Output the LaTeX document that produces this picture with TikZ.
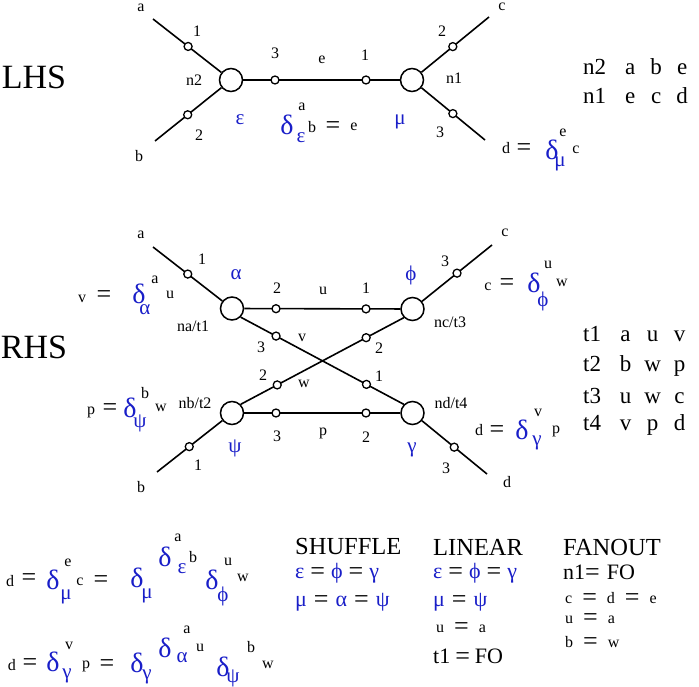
\documentclass[tikz,border=0pt]{standalone}
\usepackage{fontspec}
\setmainfont{Liberation Serif}
\usetikzlibrary{calc}
\definecolor{gblue}{RGB}{25,30,200}
\newcommand{\tcol}[1]{\makebox[27pt]{#1}}
\newcommand{\tcolb}[1]{\makebox[26pt]{#1}}
\newcommand{\eqs}{{\fontsize{26}{26}\selectfont =}}
\newcommand{\eqsl}{\raisebox{-2.8pt}{\eqs}}
\newcommand{\eqm}{\raisebox{-1.2pt}{\eqs}}
\newcommand{\gb}[1]{\textcolor{gblue}{#1}}
\begin{document}
\begin{tikzpicture}[x=1pt,y=-1pt,
  edge/.style={line width=1.6pt},
  bigc/.style={circle,draw,line width=1.5pt,minimum size=23pt,inner sep=0pt,fill=white},
  port/.style={circle,draw,line width=1.3pt,minimum size=8pt,inner sep=0pt,fill=white},
  lbl/.style={inner sep=0pt,font=\fontsize{16}{18}\selectfont},
  eqn/.style={inner sep=0pt,font=\fontsize{26}{26}\selectfont},
  side/.style={inner sep=0pt,font=\fontsize{34}{38}\selectfont},
  tabrow/.style={inner sep=0pt,anchor=west,font=\fontsize{23}{25}\selectfont},
  head/.style={inner sep=0pt,anchor=west,font=\fontsize{24.5}{27}\selectfont},
  rulel/.style={inner sep=0pt,anchor=west,font=\fontsize{22}{24}\selectfont},
  dl/.style={inner sep=0pt,text=gblue,font=\fontsize{28}{30}\selectfont},
  gk/.style={inner sep=0pt,text=gblue,font=\fontsize{21}{24}\selectfont}]
\useasboundingbox (0,0) rectangle (699,687);

% ================= LHS =================
\node[side] (lhs) at (34,77) {LHS};
\coordinate (aE) at (153,19);
\coordinate (bE) at (155,141);
\coordinate (cE) at (489,17);
\coordinate (dE) at (485,140);
\node[bigc] (n2) at (231,80) {};
\node[bigc] (n1) at (412,80) {};
\draw[edge] (aE) -- (n2);
\draw[edge] (bE) -- (n2);
\draw[edge] (n1) -- (cE);
\draw[edge] (n1) -- (dE);
\draw[edge] (n2) -- (n1);
\node[port] (la1) at ($(aE)!0.45!(n2)$) {};
\node[port] (lb2) at ($(bE)!0.43!(n2)$) {};
\node[port] (le3) at (275,80) {};
\node[port] (le1) at (366,80) {};
\node[port] (lc2) at ($(n1)!0.53!(cE)$) {};
\node[port] (ld3) at ($(n1)!0.56!(dE)$) {};

\node[lbl] (tA) at (141,8) {a};
\node[lbl] (tB) at (139,156) {b};
\node[lbl] (t1a) at (197,31) {1};
\node[lbl] (t2b) at (199,135) {2};
\node[lbl] (tn2) at (194,80) {n2};
\node[lbl] (t3e) at (275,53) {3};
\node[lbl] (tE) at (322,60) {e};
\node[lbl] (t1e) at (365,55) {1};
\node[lbl] (t2c) at (442,31) {2};
\node[lbl] (tC) at (502,7) {c};
\node[lbl] (tn1) at (454,78) {n1};
\node[lbl] (t3d) at (440,132) {3};
\node[gk] (geps) at (240,120) {ε};
\node[gk] (gmu) at (400,122) {μ};
% delta_eps^a b = e
\node[dl] (d1) at (287,125) {δ};
\node[lbl] (d1a) at (302,107) {a};
\node[gk] (d1s) at (301,138) {ε};
\node[lbl] (d1b) at (312,127) {b};
\node[eqn] (d1q) at (333,128) {=};
\node[lbl] (d1e) at (354,127) {e};
% d = delta_mu^e c
\node[lbl] (d2d) at (506,148) {d};
\node[eqn] (d2q) at (524,150) {=};
\node[dl] (d2) at (552,150) {δ};
\node[lbl] (d2e) at (563,133) {e};
\node[gk] (d2s) at (560,164) {μ};
\node[lbl] (d2c) at (576,150) {c};
% table
\node[tabrow] (r1) at (583,67) {n2\hspace{11pt}\tcolb{a}\tcolb{b}\tcolb{e}};
\node[tabrow] (r2) at (583,96) {n1\hspace{11pt}\tcolb{e}\tcolb{c}\tcolb{d}};

% ================= RHS =================
\node[side] (rhs) at (34,347) {RHS};
\coordinate (aF) at (153,247);
\coordinate (bF) at (157,472);
\coordinate (cF) at (492,245);
\coordinate (dF) at (487,474);
\node[bigc] (al) at (232,308.5) {};
\node[bigc] (ph) at (412.5,309) {};
\node[bigc] (ps) at (232,413) {};
\node[bigc] (ga) at (412.5,413) {};
\draw[edge] (aF) -- (al);
\draw[edge] (bF) -- (ps);
\draw[edge] (ph) -- (cF);
\draw[edge] (ga) -- (dF);
\draw[edge] (al) -- (ph);
\draw[edge] (ps) -- (ga);
\draw[edge] (al.-45) -- (ga.135);
\draw[edge] (ps.45) -- (ph.-135);
\node[port] (ra1) at ($(aF)!0.44!(al)$) {};
\node[port] (rb1) at ($(bF)!0.43!(ps)$) {};
\node[port] (rc3) at ($(ph)!0.56!(cF)$) {};
\node[port] (rd3) at ($(ga)!0.56!(dF)$) {};
\node[port] (ru2) at (276,308.7) {};
\node[port] (ru1) at (366,308.9) {};
\node[port] (rp3) at (276,413) {};
\node[port] (rp2) at (366,413) {};
\node[port] (rv3) at ($(al.-45)!0.217!(ga.135)$) {};
\node[port] (rv1) at ($(al.-45)!0.771!(ga.135)$) {};
\node[port] (rw2) at ($(ps.45)!0.224!(ph.-135)$) {};
\node[port] (rw1) at ($(ps.45)!0.769!(ph.-135)$) {};

\node[lbl] (sA) at (141,235) {a};
\node[lbl] (s1a) at (202,259) {1};
\node[gk] (galpha) at (236,275) {α};
\node[lbl] (s2u) at (277,288) {2};
\node[lbl] (sU) at (323,291) {u};
\node[lbl] (s1u) at (366,288) {1};
\node[lbl] (sna) at (193,326) {na/t1};
\node[lbl] (s3v) at (261,347) {3};
\node[lbl] (sV) at (302,338) {v};
\node[lbl] (s2w) at (263,375) {2};
\node[lbl] (sW) at (304,384) {w};
\node[lbl] (snb) at (195,403) {nb/t2};
\node[lbl] (s3p) at (277,436) {3};
\node[lbl] (sP) at (323,433) {p};
\node[lbl] (s2p) at (366,437) {2};
\node[gk] (gpsi) at (235,448) {ψ};
\node[lbl] (s1b) at (198,465) {1};
\node[lbl] (sB) at (141,487) {b};
\node[lbl] (sC) at (505,233) {c};
\node[lbl] (s3c) at (445,261) {3};
\node[gk] (gphi) at (411,275) {ϕ};
\node[lbl] (snc) at (450,322) {nc/t3};
\node[lbl] (s2x) at (379,348) {2};
\node[lbl] (s1x) at (379,376) {1};
\node[lbl] (snd) at (451,403) {nd/t4};
\node[gk] (ggam) at (412,450) {γ};
\node[lbl] (s3d) at (446,468) {3};
\node[lbl] (sD) at (507,482) {d};
% v = delta_alpha^a u
\node[lbl] (e1v) at (82,299) {v};
\node[eqn] (e1q) at (104,297) {=};
\node[dl] (e1) at (139,294) {δ};
\node[lbl] (e1a) at (155,280) {a};
\node[gk] (e1s) at (145,310) {α};
\node[lbl] (e1u) at (170,295) {u};
% p = delta_psi^b w
\node[lbl] (e2p) at (91,412) {p};
\node[eqn] (e2q) at (110,410) {=};
\node[dl] (e2) at (130,408) {δ};
\node[lbl] (e2b) at (145,393) {b};
\node[gk] (e2s) at (140,423) {ψ};
\node[lbl] (e2w) at (161,408) {w};
% c = delta_phi^u w
\node[lbl] (e3c) at (488,287) {c};
\node[eqn] (e3q) at (507,285) {=};
\node[dl] (e3) at (534,283) {δ};
\node[lbl] (e3u) at (548,265) {u};
\node[gk] (e3s) at (543,301) {ϕ};
\node[lbl] (e3w) at (562,283) {w};
% d = delta_gamma^v p
\node[lbl] (e4d) at (479,430) {d};
\node[eqn] (e4q) at (497,432) {=};
\node[dl] (e4) at (522,430) {δ};
\node[lbl] (e4v) at (538,413) {v};
\node[gk] (e4s) at (537,443) {γ};
\node[lbl] (e4p) at (556,431) {p};
% table
\node[tabrow] (q1) at (583,334) {t1\hspace{11pt}\tcol{a}\tcol{u}\tcol{v}};
\node[tabrow] (q2) at (583,366) {t2\hspace{11pt}\tcol{b}\tcol{w}\tcol{p}};
\node[tabrow] (q3) at (583,396) {t3\hspace{11pt}\tcol{u}\tcol{w}\tcol{c}};
\node[tabrow] (q4) at (583,425) {t4\hspace{11pt}\tcol{v}\tcol{p}\tcol{d}};

% ================= bottom equations =================
\node[lbl] (b1d) at (10,581) {d};
\node[eqn] (b1q) at (29,580) {=};
\node[dl] (b1x) at (53,580) {δ};
\node[lbl] (b1e) at (68,563) {e};
\node[gk] (b1m) at (66,597) {μ};
\node[lbl] (b1c) at (80,582) {c};
\node[eqn] (b1r) at (101,582) {=};
\node[dl] (b1y) at (137,578) {δ};
\node[gk] (b1n) at (147,596) {μ};
\node[dl] (b1z) at (165,557) {δ};
\node[gk] (b1s) at (182,569) {ε};
\node[lbl] (b1a) at (178,538) {a};
\node[lbl] (b1b) at (193,557) {b};
\node[dl] (b1w) at (212,580) {δ};
\node[gk] (b1f) at (223,596) {ϕ};
\node[lbl] (b1u) at (228,562) {u};
\node[lbl] (b1v) at (243,578) {w};

\node[lbl] (b2d) at (12,665) {d};
\node[eqn] (b2q) at (30,665) {=};
\node[dl] (b2x) at (53,662) {δ};
\node[lbl] (b2v) at (69,646) {v};
\node[gk] (b2g) at (67,676) {γ};
\node[lbl] (b2p) at (86,666) {p};
\node[eqn] (b2r) at (107,666) {=};
\node[dl] (b2y) at (137,663) {δ};
\node[gk] (b2h) at (147,677) {γ};
\node[dl] (b2z) at (165,648) {δ};
\node[gk] (b2s) at (182,658) {α};
\node[lbl] (b2a) at (187,630) {a};
\node[lbl] (b2u) at (200,648) {u};
\node[dl] (b2w) at (223,667) {δ};
\node[gk] (b2f) at (233,678) {ψ};
\node[lbl] (b2b) at (251,647) {b};
\node[lbl] (b2x2) at (268,665) {w};

% ================= rule columns =================
\node[head] (shuf) at (295,547) {SHUFFLE};
\node[rulel] (sh1) at (295,573) {\gb{ε}\hspace{6pt}\eqm\hspace{6pt}\gb{ϕ}\hspace{6pt}\eqm\hspace{6pt}\gb{γ}};
\node[rulel] (sh2) at (295,602) {\gb{μ}\hspace{7pt}\eqm\hspace{7pt}\gb{α}\hspace{7pt}\eqm\hspace{7pt}\gb{ψ}};

\node[head] (lin) at (433,547) {LINEAR};
\node[rulel] (li1) at (433,573) {\gb{ε}\hspace{6pt}\eqm\hspace{6pt}\gb{ϕ}\hspace{6pt}\eqm\hspace{6pt}\gb{γ}};
\node[rulel] (li2) at (433,602) {\gb{μ}\hspace{7pt}\eqm\hspace{7pt}\gb{ψ}};
\node[lbl,anchor=west] (li3) at (436,629) {u\hspace{10pt}\eqsl\hspace{10pt}a};
\node[rulel] (li4) at (433,657) {t1\hspace{5pt}\eqm\hspace{5pt}FO};

\node[head] (fan) at (563,548) {FANOUT};
\node[rulel] (fa1) at (563,573) {n1\eqm\hspace{7pt}FO};
\node[lbl,anchor=west] (fa2) at (565,599) {c\hspace{10pt}\eqsl\hspace{10pt}d\hspace{10pt}\eqsl\hspace{10pt}e};
\node[lbl,anchor=west] (fa3) at (565,620) {u\hspace{10pt}\eqsl\hspace{10pt}a};
\node[lbl,anchor=west] (fa4) at (565,643) {b\hspace{10pt}\eqsl\hspace{10pt}w};
\end{tikzpicture}
\end{document}
